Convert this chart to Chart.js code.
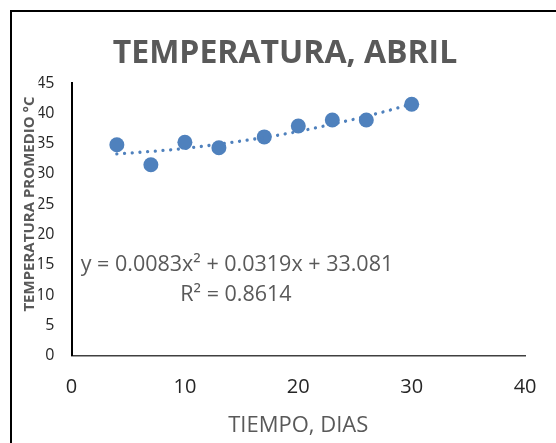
<!DOCTYPE html>
<html lang="es">
<head>
    <meta charset="UTF-8">
    <title>Temperatura, Abril</title>
    <script src="https://cdn.jsdelivr.net/npm/chart.js"></script>
    <style>
        body { margin: 0; background: #fff; }
        .chart-box { width: 556px; height: 443px; }
    </style>
</head>
<body>
    <div class="chart-box">
        <canvas id="tempChart"></canvas>
    </div>

    <script>
        // Datos
        const dias = [4, 7, 10, 13, 17, 20, 23, 26, 30];
        const temperaturas = [34.8, 31.5, 35.2, 34.3, 36.1, 37.9, 38.9, 38.9, 41.5];
        // Línea de tendencia (polinómica) en los mismos días
        const tendencia = [33.3, 33.7, 34.2, 34.9, 36.0, 37.0, 38.2, 39.5, 41.5];
        const ecuacion = ['y = 0.0083x² + 0.0319x + 33.081', 'R² = 0.8614'];
        const ticksX = [0, 10, 20, 30, 40];
        const ticksY = [0, 5, 10, 15, 20, 25, 30, 35, 40, 45];

        const azul = '#4F81BD';
        const gris = '#595959';

        // Marco, título del eje Y y ecuación de la tendencia
        const extras = {
            id: 'extras',
            beforeDraw(chart) {
                const ctx = chart.ctx;
                ctx.save();
                ctx.strokeStyle = '#000';
                ctx.lineWidth = 2;
                ctx.beginPath();
                ctx.moveTo(11, 443);
                ctx.lineTo(11, 11);
                ctx.lineTo(556, 11);
                ctx.stroke();
                ctx.restore();
            },
            afterDraw(chart) {
                const ctx = chart.ctx;
                ctx.save();
                ctx.fillStyle = gris;
                ctx.textAlign = 'center';
                ctx.textBaseline = 'middle';
                ctx.font = '21.5px "Open Sans"';
                ctx.fillText(ecuacion[0], 237, 265);
                ctx.fillText(ecuacion[1], 236, 295);

                ctx.translate(30, 204);
                ctx.rotate(-Math.PI / 2);
                ctx.font = 'bold 15px "Open Sans"';
                ctx.fillText('TEMPERATURA PROMEDIO °C', 0, 0);
                ctx.restore();
            }
        };

        const ctx = document.getElementById('tempChart').getContext('2d');
        const chart = new Chart(ctx, {
            type: 'scatter',
            data: {
                datasets: [
                    {
                        type: 'line',
                        label: 'Tendencia',
                        data: dias.map((d, i) => ({ x: d, y: tendencia[i] })),
                        borderColor: azul,
                        borderWidth: 3.3,
                        borderDash: [0.01, 7.7],
                        borderCapStyle: 'round',
                        cubicInterpolationMode: 'monotone',
                        pointRadius: 0,
                        fill: false
                    },
                    {
                        label: 'Temperatura',
                        data: dias.map((d, i) => ({ x: d, y: temperaturas[i] })),
                        backgroundColor: azul,
                        borderWidth: 0,
                        pointRadius: 7.5
                    }
                ]
            },
            options: {
                responsive: true,
                maintainAspectRatio: false,
                devicePixelRatio: 1,
                animation: false,
                layout: { padding: { left: 38.5, right: 24.5, top: 0, bottom: 0 } },
                plugins: {
                    legend: { display: false },
                    tooltip: { enabled: false },
                    title: {
                        display: true,
                        text: 'TEMPERATURA, ABRIL',
                        color: gris,
                        font: { family: 'Open Sans', size: 32, weight: 'bold', lineHeight: 1.2 },
                        padding: { top: 35, bottom: 9.6 }
                    }
                },
                scales: {
                    x: {
                        type: 'linear',
                        min: 0,
                        max: 40,
                        afterBuildTicks: s => { s.ticks = ticksX.map(v => ({ value: v })); },
                        afterFit: s => { s.height = 87.5; },
                        grid: { display: false, drawTicks: false },
                        border: { display: true, color: '#404040', width: 1.5 },
                        ticks: {
                            color: '#262626',
                            padding: 19.5,
                            font: { family: 'Open Sans', size: 20 }
                        },
                        title: {
                            display: true,
                            text: 'TIEMPO, DIAS',
                            color: gris,
                            font: { family: 'Open Sans', size: 22, lineHeight: 1.2 },
                            padding: { top: 0, bottom: 4 }
                        }
                    },
                    y: {
                        min: 0,
                        max: 45,
                        afterBuildTicks: s => { s.ticks = ticksY.map(v => ({ value: v })); },
                        afterFit: s => { s.width = 33; },
                        grid: { display: false, drawTicks: false },
                        border: { display: true, color: '#000', width: 2 },
                        ticks: {
                            color: '#262626',
                            padding: 17,
                            font: { family: 'Open Sans', size: 16 }
                        }
                    }
                }
            },
            plugins: [extras]
        });
    </script>
</body>
</html>
